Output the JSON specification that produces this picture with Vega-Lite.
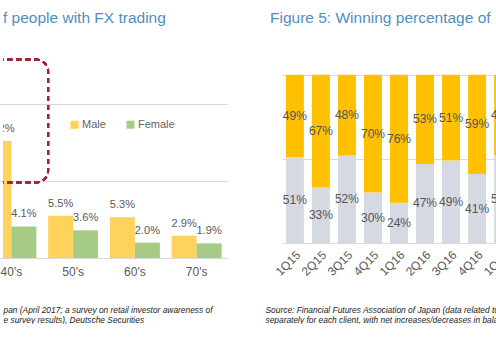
{
  "$schema": "https://vega.github.io/schema/vega-lite/v6.json",
  "padding": {"left": 0, "top": 10, "right": 0, "bottom": 0},
  "background": "white",
  "spacing": 15,
  "resolve": {"scale": {"color": "independent"}, "legend": {"color": "independent"}},
  "config": {
    "view": {"stroke": null},
    "font": "Liberation Sans",
    "axis": {"labelColor": "#595959", "labelFont": "Liberation Sans"}
  },
  "hconcat": [
    {
      "width": 225,
      "height": 200,
      "title": {"text": "f people with FX trading", "anchor": "start", "frame": "group", "fontSize": 15.5, "fontWeight": "normal", "color": "#4F8FC0", "offset": 32},
      "data": {"values": [
        {"age": "40's", "gender": "Male", "pct": 0.152},
        {"age": "40's", "gender": "Female", "pct": 0.041},
        {"age": "50's", "gender": "Male", "pct": 0.055},
        {"age": "50's", "gender": "Female", "pct": 0.036},
        {"age": "60's", "gender": "Male", "pct": 0.053},
        {"age": "60's", "gender": "Female", "pct": 0.020},
        {"age": "70's", "gender": "Male", "pct": 0.029},
        {"age": "70's", "gender": "Female", "pct": 0.019}
      ]},
      "layer": [
        {
          "mark": {"type": "bar", "clip": true},
          "encoding": {
            "x": {"field": "age", "type": "nominal",
              "scale": {"domain": ["40's", "50's", "60's", "70's"], "range": [-22.5, 224.5], "paddingInner": 0.19, "paddingOuter": 0.095},
              "axis": {"domain": false, "ticks": false, "labelAngle": 0, "labelFontSize": 12, "labelPadding": 8,
                "title": ["pan (April 2017; a survey on retail investor awareness of", "e survey results), Deutsche Securities"],
                "titleFontSize": 8.4, "titleFontStyle": "italic", "titleFontWeight": "normal", "titleColor": "#222222",
                "titleAnchor": "start", "titleAlign": "left", "titleBaseline": "top", "titleX": 0, "titleY": 47, "titleLineHeight": 10.5}},
            "xOffset": {"field": "gender", "type": "nominal", "scale": {"domain": ["Male", "Female"]}},
            "y": {"field": "pct", "type": "quantitative",
              "scale": {"domain": [0, 0.26]},
              "axis": {"values": [0, 0.05, 0.1, 0.15, 0.2, 0.25], "labels": false, "ticks": false, "domain": false, "title": null, "gridColor": "#D9D9D9"}},
            "color": {"field": "gender", "type": "nominal",
              "scale": {"domain": ["Male", "Female"], "range": ["#FDD35E", "#A6CB87"]},
              "legend": {"title": null, "orient": "none", "legendX": 66, "legendY": 61, "direction": "horizontal", "symbolType": "square", "symbolSize": 64, "labelFontSize": 11, "labelColor": "#666666", "columnPadding": 19, "labelOffset": 2}}
          }
        },
        {
          "mark": {"type": "text", "clip": true, "baseline": "alphabetic", "dy": -9, "fontSize": 11, "color": "#595959"},
          "encoding": {
            "x": {"field": "age", "type": "nominal"},
            "xOffset": {"field": "gender", "type": "nominal"},
            "y": {"field": "pct", "type": "quantitative"},
            "text": {"field": "pct", "type": "quantitative", "format": ".1%"}
          }
        },
        {
          "mark": {"type": "rect", "clip": true, "filled": false, "stroke": "#A3243B", "strokeWidth": 2, "strokeDash": [5, 4], "cornerRadius": 12},
          "encoding": {
            "x": {"datum": "40's", "bandPosition": 0},
            "x2": {"datum": "50's", "bandPosition": 0},
            "y": {"datum": 0.258},
            "y2": {"datum": 0.098}
          }
        }
      ]
    },
    {
      "width": 234,
      "height": 185,
      "title": {"text": "Figure 5: Winning percentage of", "anchor": "start", "frame": "group", "dx": -12, "fontSize": 15.5, "fontWeight": "normal", "color": "#4F8FC0", "offset": 32},
      "data": {"values": [
        {"q": "1Q15", "series": "Win", "v": 0.51}, {"q": "1Q15", "series": "Loss", "v": 0.49},
        {"q": "2Q15", "series": "Win", "v": 0.33}, {"q": "2Q15", "series": "Loss", "v": 0.67},
        {"q": "3Q15", "series": "Win", "v": 0.52}, {"q": "3Q15", "series": "Loss", "v": 0.48},
        {"q": "4Q15", "series": "Win", "v": 0.30}, {"q": "4Q15", "series": "Loss", "v": 0.70},
        {"q": "1Q16", "series": "Win", "v": 0.24}, {"q": "1Q16", "series": "Loss", "v": 0.76},
        {"q": "2Q16", "series": "Win", "v": 0.47}, {"q": "2Q16", "series": "Loss", "v": 0.53},
        {"q": "3Q16", "series": "Win", "v": 0.49}, {"q": "3Q16", "series": "Loss", "v": 0.51},
        {"q": "4Q16", "series": "Win", "v": 0.41}, {"q": "4Q16", "series": "Loss", "v": 0.59},
        {"q": "1Q17", "series": "Win", "v": 0.52}, {"q": "1Q17", "series": "Loss", "v": 0.48}
      ]},
      "encoding": {
        "x": {"field": "q", "type": "nominal", "sort": null,
          "scale": {"paddingInner": 0.31, "paddingOuter": 0.15},
          "axis": {"domain": false, "ticks": false, "labelAngle": -45, "labelFontSize": 12, "labelPadding": 6,
            "title": ["Source: Financial Futures Association of Japan (data related to", "separately for each client, with net increases/decreases in balance"],
            "titleFontSize": 8.4, "titleFontStyle": "italic", "titleFontWeight": "normal", "titleColor": "#222222",
            "titleAnchor": "start", "titleAlign": "left", "titleBaseline": "top", "titleX": -17, "titleY": 62, "titleLineHeight": 10.5}}
      },
      "layer": [
        {
          "mark": {"type": "bar"},
          "encoding": {
            "y": {"field": "v", "type": "quantitative", "stack": "zero",
              "scale": {"domain": [0, 1.0452]},
              "axis": {"values": [0, 0.5, 1], "labels": false, "ticks": false, "domain": false, "title": null, "gridColor": "#D9D9D9"}},
            "color": {"field": "series", "type": "nominal", "scale": {"domain": ["Loss", "Win"], "range": ["#FFC000", "#D5D9E2"]}, "legend": null},
            "order": {"field": "series", "sort": "descending"}
          }
        },
        {
          "mark": {"type": "text", "fontSize": 12, "color": "#555555", "baseline": "middle"},
          "encoding": {
            "y": {"field": "v", "type": "quantitative", "stack": "zero", "bandPosition": 0.5},
            "order": {"field": "series", "sort": "descending"},
            "detail": {"field": "series"},
            "text": {"field": "v", "type": "quantitative", "format": ".0%"}
          }
        }
      ]
    }
  ]
}
